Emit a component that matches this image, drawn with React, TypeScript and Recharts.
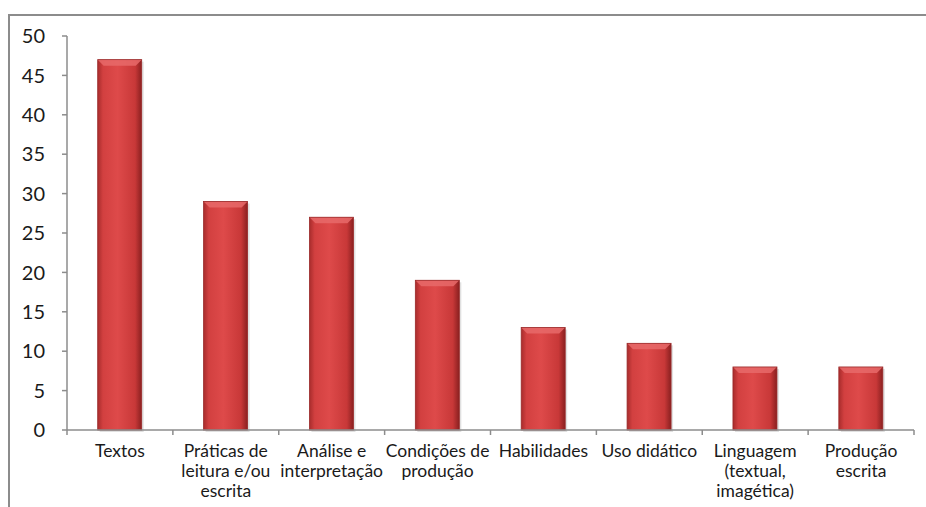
import React from 'react';
import { BarChart, Bar, XAxis, YAxis } from 'recharts';

// categories and counts
const categories = [
  'Textos',
  'Práticas de\nleitura e/ou\nescrita',
  'Análise e\ninterpretação',
  'Condições de\nprodução',
  'Habilidades',
  'Uso didático',
  'Linguagem\n(textual,\nimagética)',
  'Produção\nescrita',
];
const counts = [47, 29, 27, 19, 13, 11, 8, 8];
const yTicks = [0, 5, 10, 15, 20, 25, 30, 35, 40, 45, 50];

const data = categories.map((name, i) => ({ name, value: counts[i] }));

const FONT = 'Lato, "Open Sans", sans-serif';
const BAND = (914 - 67) / categories.length;

const CategoryTick = (props: any) => {
  const { x, y, payload, index } = props;
  const axisY = y - 7;
  const lines = String(payload.value).split('\n');
  return (
    <g>
      <line x1={x - BAND / 2} x2={x - BAND / 2} y1={axisY} y2={axisY + 5} stroke="#8c8c8c" strokeWidth={1.5} />
      {index === categories.length - 1 && (
        <line x1={x + BAND / 2} x2={x + BAND / 2} y1={axisY} y2={axisY + 5} stroke="#8c8c8c" strokeWidth={1.5} />
      )}
      <text textAnchor="middle" fontFamily={FONT} fontSize={17.5} fill="#1a1a1a">
        {lines.map((l, i) => (
          <tspan key={i} x={x} y={axisY + 27 + i * 20}>
            {l}
          </tspan>
        ))}
      </text>
    </g>
  );
};

const CylBar = (props: any) => {
  const { x, y, width, height } = props;
  if (!height || height <= 0) return null;
  const b = 6;
  return (
    <g>
      <rect x={x + 2} y={y + 2} width={width} height={height} fill="#000" opacity={0.12} />
      <rect x={x} y={y} width={width} height={height} fill="url(#barGrad)" />
      <path
        d={`M${x},${y} L${x + width},${y} L${x + width - b},${y + b} L${x + b},${y + b} Z`}
        fill="#e86a6a"
        opacity={0.85}
      />
      <rect x={x} y={y} width={width} height={height} fill="none" stroke="#9a2a2a" strokeWidth={0.8} />
    </g>
  );
};

export default function App() {
  return (
    <div>
      <div
        style={{
          position: 'absolute',
          left: 8,
          top: 14,
          width: 918,
          height: 493,
          borderTop: '2px solid #8c8c8c',
          borderLeft: '2px solid #8c8c8c',
          boxSizing: 'border-box',
        }}
      />
      <div style={{ position: 'absolute', left: 0, top: 0 }}>
        <BarChart
          width={926}
          height={507}
          data={data}
          margin={{ top: 36, right: 12, left: 0, bottom: 0 }}
          barCategoryGap="29%"
        >
          <defs>
            <linearGradient id="barGrad" x1="0" y1="0" x2="1" y2="0">
              <stop offset="0%" stopColor="#a82c2c" />
              <stop offset="12%" stopColor="#d24040" />
              <stop offset="45%" stopColor="#de4a4a" />
              <stop offset="85%" stopColor="#c83838" />
              <stop offset="100%" stopColor="#8a2020" />
            </linearGradient>
          </defs>
          <XAxis
            dataKey="name"
            height={77}
            interval={0}
            tickLine={false}
            tickSize={5}
            tickMargin={2}
            axisLine={{ stroke: '#8c8c8c', strokeWidth: 1.5 }}
            tick={<CategoryTick />}
          />
          <YAxis
            width={67}
            domain={[0, 50]}
            ticks={yTicks}
            interval={0}
            tickSize={5}
            tickMargin={17}
            axisLine={{ stroke: '#8c8c8c', strokeWidth: 1.5 }}
            tickLine={{ stroke: '#8c8c8c', strokeWidth: 1.5 }}
            tick={{ fontFamily: FONT, fontSize: 20, fill: '#1a1a1a' }}
          />
          <Bar dataKey="value" shape={<CylBar />} isAnimationActive={false} />
        </BarChart>
      </div>
    </div>
  );
}
